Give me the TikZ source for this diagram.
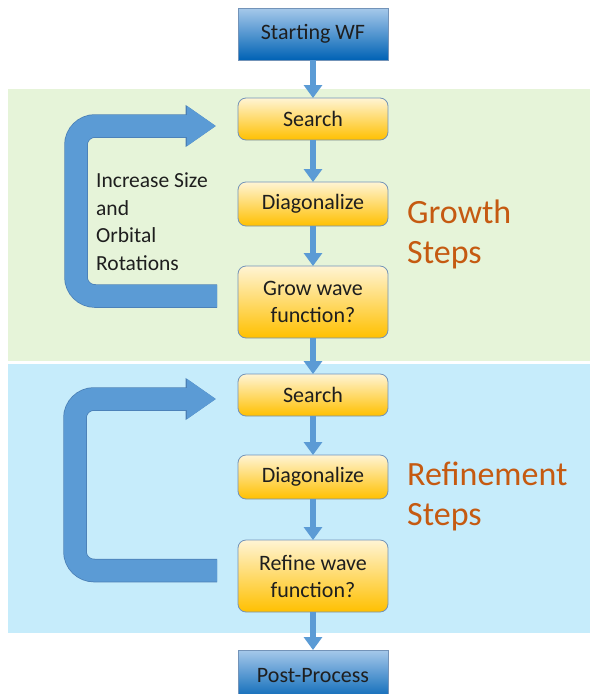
\documentclass[tikz,border=0pt]{standalone}
\usepackage{fontspec}
\setmainfont{Carlito}
\usetikzlibrary{positioning, arrows.meta}
\definecolor{growbg}{HTML}{E6F4D9}
\definecolor{refinebg}{HTML}{C6ECFB}
\definecolor{arrowblue}{HTML}{5B9BD5}
\definecolor{loopedge}{HTML}{4A7FB5}
\definecolor{boxedge}{HTML}{7393B8}
\definecolor{steptop}{HTML}{FFF4D4}
\definecolor{stepmid}{HTML}{FFCB33}
\definecolor{stepbottom}{HTML}{FFC000}
\definecolor{wftop}{HTML}{A6C9EA}
\definecolor{wfmid}{HTML}{2F84D0}
\definecolor{wfbottom}{HTML}{0062B5}
\definecolor{labelorange}{HTML}{C55A11}
\definecolor{boxtext}{HTML}{1E1E1E}
\tikzstyle{wfbox} = [rectangle, minimum width=150pt, minimum height=52pt, inner sep=0pt, outer sep=0pt, text centered, draw=boxedge, line width=0.8pt, top color=wftop, middle color=wfmid, bottom color=wfbottom, text=boxtext, font=\fontsize{22}{27}\selectfont]
\tikzstyle{stepbox} = [rectangle, rounded corners=8pt, minimum width=150pt, minimum height=42pt, inner sep=0pt, outer sep=0pt, align=center, draw=boxedge, line width=0.8pt, top color=steptop, middle color=stepmid, bottom color=stepbottom, text=boxtext, font=\fontsize{22}{27}\selectfont]
\tikzstyle{arrow} = [draw=arrowblue, line width=6pt, -{Triangle[width=18pt,length=13pt]}]
\tikzstyle{loopback} = [draw=arrowblue, line width=22pt, rounded corners=19pt, -{Triangle[width=38pt,length=29pt]}, preaction={draw=loopedge, line width=23.5pt, -{Triangle[width=40pt,length=30.5pt]}}]
\tikzstyle{steplabel} = [anchor=north west, inner sep=0pt, align=left, text=labelorange, font=\fontsize{34}{40}\selectfont]

\begin{document}
\begin{tikzpicture}[x=1pt, y=1pt, node distance=40pt]
	\clip (0,0) rectangle (590,-694);

		% Background bands
		\fill [growbg] (8,-89) rectangle (590,-361);
		\fill [refinebg] (8,-364) rectangle (590,-633);

		% Draw the nodes
		\node (start) [wfbox] at (313,-34) {Starting WF};
		\node (search1) [stepbox, below=38pt of start] {Search};
		\node (diag1) [stepbox, below=42pt of search1, minimum height=44pt] {Diagonalize};
		\node (grow) [stepbox, below=40pt of diag1, minimum height=72pt] {Grow wave\\ function?};
		\node (search2) [stepbox, below=36pt of grow] {Search};
		\node (diag2) [stepbox, below=39pt of search2, minimum height=44pt] {Diagonalize};
		\node (refine) [stepbox, below=41pt of diag2, minimum height=72pt] {Refine wave\\ function?};
		\node (post) [wfbox, below=38pt of refine] {Post-Process};

		\node (growtext) [anchor=north west, inner sep=0pt, align=left, text=boxtext, font=\fontsize{21.5}{27.5}\selectfont] at (96,-173) {Increase Size\\ and\\ Orbital\\ Rotations};
		\node (growlabel) [steplabel] at (407,-200) {Growth\\ Steps};
		\node (refinelabel) [steplabel] at (407,-462) {Refinement\\ Steps};

		% Draw the arrows
		\draw [arrow] (start) -- (search1);
		\draw [arrow] (search1) -- (diag1);
		\draw [arrow] (diag1) -- (grow);
		\draw [arrow] (grow) -- (search2);
		\draw [arrow] (search2) -- (diag2);
		\draw [arrow] (diag2) -- (refine);
		\draw [arrow] (refine) -- (post);
		\draw [loopback] ([xshift=-21pt, yshift=6pt]grow.west) -- ++(-141pt,0) |- ([xshift=-22pt, yshift=-7pt]search1.west);
		\draw [loopback] ([xshift=-21pt, yshift=5.5pt]refine.west) -- ++(-142pt,0) |- ([xshift=-22pt, yshift=-4pt]search2.west);

	\end{tikzpicture}
\end{document}
